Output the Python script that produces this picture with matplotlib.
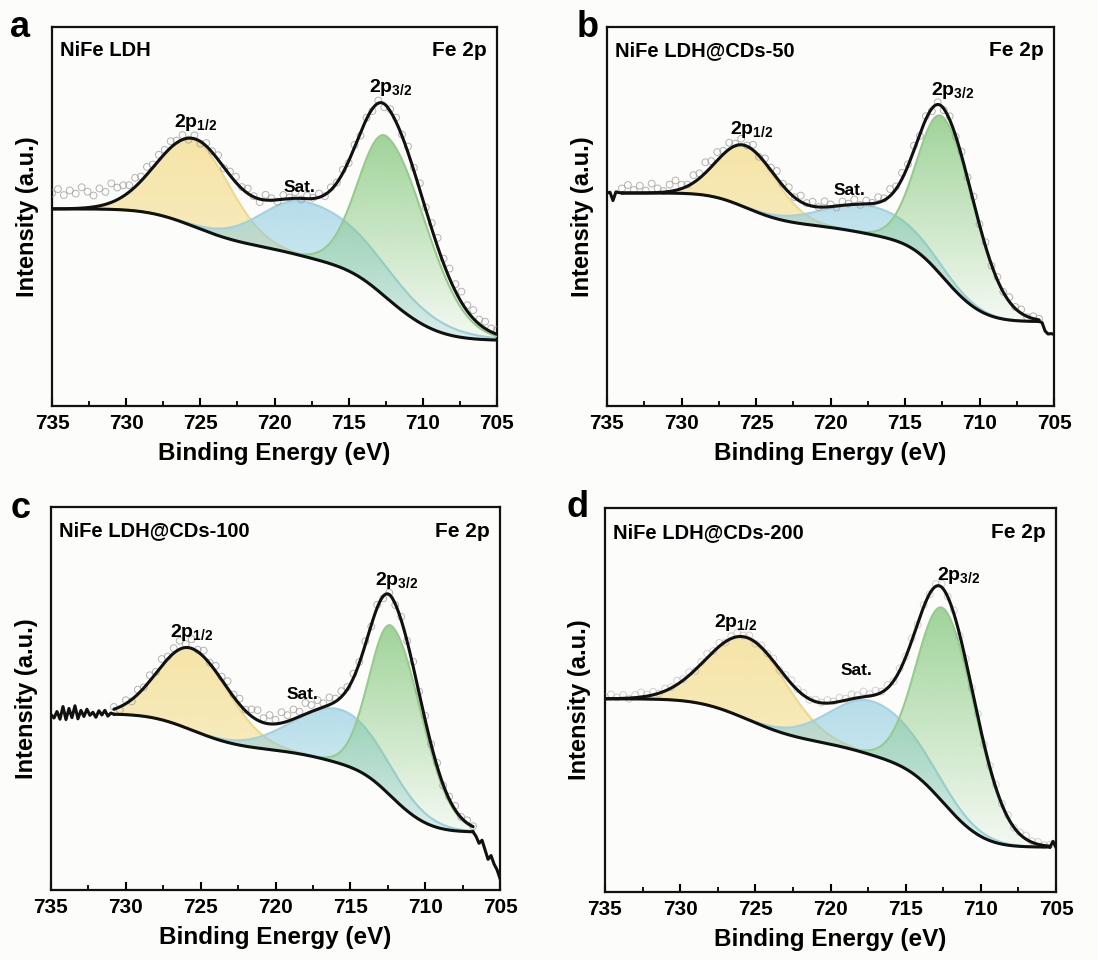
import numpy as np
import matplotlib
matplotlib.use("Agg")
import matplotlib.pyplot as plt
import matplotlib.colors as mcolors
from matplotlib.patches import Polygon
from matplotlib.ticker import MultipleLocator

plt.rcParams["font.family"] = ["Liberation Sans", "DejaVu Sans"]
plt.rcParams["font.weight"] = "bold"
plt.rcParams["mathtext.fontset"] = "custom"
plt.rcParams["mathtext.rm"] = "Liberation Sans:bold"
plt.rcParams["mathtext.bf"] = "Liberation Sans:bold"
plt.rcParams["mathtext.it"] = "Liberation Sans:bold"

# ---------------------------------------------------------------- data
panel_letters = ["a", "b", "c", "d"]
sample_names = ["NiFe LDH", "NiFe LDH@CDs-50", "NiFe LDH@CDs-100", "NiFe LDH@CDs-200"]
region_label = "Fe 2p"
x_ticks = [735, 730, 725, 720, 715, 710, 705]

# fit window (high BE -> low BE) and Shirley background end intensities
fit_hi = [735.0, 734.0, 730.8, 735.0]
fit_lo = [705.0, 706.0, 706.8, 705.4]
bkg_hi = [52.0, 56.2, 45.9, 50.3]
bkg_lo = [17.4, 22.3, 15.2, 11.7]

# fitted components: centre (eV), apex intensity (background + peak),
# sigma on the high-BE side, sigma on the low-BE side
p12_center = [725.4, 725.7, 725.6, 725.5]
p12_apex = [70.0, 68.5, 63.0, 66.0]
p12_sig_hi = [2.5, 1.9, 2.2, 2.6]
p12_sig_lo = [2.4, 2.1, 2.5, 2.6]

sat_center = [717.9, 717.3, 715.6, 717.2]
sat_apex = [53.9, 52.7, 47.0, 49.6]
sat_sig_hi = [2.9, 3.1, 3.1, 2.8]
sat_sig_lo = [5.0, 3.3, 3.0, 3.3]

p32_center = [712.4, 712.4, 712.2, 712.4]
p32_apex = [71.0, 76.0, 68.8, 73.5]
p32_sig_hi = [1.9, 1.7, 1.5, 1.8]
p32_sig_lo = [2.7, 2.1, 2.0, 2.1]

# measured counts relative to the fit envelope, every 0.4 eV from fit_hi downwards
point_step = 0.4
resid_a = [4.1, 5.2, 3.6, 4.8, 3.9, 5.5, 4.2, 3.0, 4.6, 3.3, 5.0, 3.2, 2.9, 1.8, 2.4, 1.2,
           2.0, 0.8, 1.5, 1.0, 1.7, 0.6, 1.2, -0.4, 0.9, -0.6, 0.8, 0.3, 1.2, -0.2, 1.0, 1.5,
           0.4, 1.3, 0.2, -0.8, 1.4, 0.5, -0.5, 1.1, 0.3, 1.6, -0.3, 0.8, 0.2, 1.0, -0.4, 0.7,
           0.1, 0.9, -0.5, 0.6, -0.8, 0.4, -0.6, 0.7, -0.9, 0.5, 1.2, 0.4, 1.6, 0.8, 1.8, 0.6,
           1.5, 2.4, 1.3, 2.6, 1.9, 2.8, 1.6, 2.2, 1.2, 1.8, 0.9, 1.1]
resid_b = [1.2, 2.1, 0.8, 1.9, 0.6, 2.4, 1.1, 0.3, 1.8, 2.6, 1.0, 0.4, 2.0, 1.3, 2.8, 1.5,
           2.2, 0.9, 1.7, 0.6, 1.6, 0.2, 1.4, -0.3, 1.1, 0.7, 1.9, 0.5, 1.3, 0.1, 1.6, 0.4,
           1.2, 0.0, 1.5, 0.6, -0.4, 1.0, 0.3, 1.3, -0.2, 0.9, 0.2, 1.4, 0.5, 1.8, 0.7, 1.6,
           0.4, 1.2, -0.5, 0.8, -0.7, 0.6, -0.4, 0.9, -0.2, 1.1, 0.3, 1.4, 0.2, 1.0, -0.3, 0.8,
           0.1, 1.2, 0.4, 1.0, -0.2, 0.6, 0.3]
resid_c = [0.6, -0.8, 0.9, -0.5, 1.2, 0.2, 1.5, 0.4, 1.8, 0.6, 1.3, 2.2, 0.9, 2.4, 0.5, 1.6,
           0.2, 1.4, 0.8, 1.9, 0.6, 1.5, 0.3, 1.8, 2.6, 1.2, 2.3, 1.1, 2.8, 1.6, 2.5, 1.3,
           2.9, 1.7, 2.4, 1.0, 1.9, 0.8, 1.5, 0.6, 1.2, 0.3, 0.9, -0.4, 0.7, -0.6, 0.5, -0.3,
           0.9, 0.2, 1.3, 0.5, 1.1, 0.1, 0.9, -0.3, 0.6, 1.0, 0.2, 0.7, 0.1]
resid_d = [0.5, 1.1, 0.3, 0.9, -0.2, 0.7, 1.2, 0.4, 0.8, -0.1, 0.6, 0.2, 1.0, 0.3, 0.8, -0.3,
           0.5, 1.1, 0.2, 0.9, -0.2, 0.6, 1.0, 0.3, 0.8, -0.4, 0.5, 0.1, 0.7, -0.3, 0.4, 0.9,
           0.2, 0.6, -0.2, 0.5, 0.1, 0.8, 0.3, 1.0, 0.4, 1.2, 0.6, 1.4, 0.5, 1.1, 0.2, 0.8,
           -0.1, 0.6, 0.2, 0.7, -0.3, 0.5, -0.2, 0.6, 0.9, 0.1, 0.8, -0.2, 0.5, 0.1, 0.7, -0.3,
           0.4, 0.8, 0.2, 0.6, -0.1, 0.5, 0.9, 0.3, 0.6, 0.1, 0.4]
residuals = [resid_a, resid_b, resid_c, resid_d]

# raw spectrum outside the fit window (energy, intensity)
raw_b_left_x = [735.0, 734.8, 734.6, 734.4, 734.2, 734.0]
raw_b_left_y = [56.2, 56.4, 54.2, 56.5, 56.3, 56.2]
raw_b_right_x = [706.0, 705.8, 705.6, 705.4, 705.2, 705.0]
raw_b_right_y = [22.3, 22.0, 19.8, 19.0, 19.1, 18.9]
raw_c_left_x = [735.0, 734.8, 734.6, 734.4, 734.2, 734.0, 733.8, 733.6, 733.4, 733.2, 733.0,
                732.8, 732.6, 732.4, 732.2, 732.0, 731.8, 731.6, 731.4, 731.2, 731.0, 730.8]
raw_c_left_y = [45.8, 44.9, 46.6, 44.6, 47.9, 44.5, 47.4, 45.0, 48.1, 44.7, 46.9,
                45.3, 47.2, 45.6, 46.4, 45.1, 46.8, 45.7, 46.9, 45.4, 46.2, 45.9]
raw_c_right_x = [706.8, 706.6, 706.4, 706.2, 706.0, 705.8, 705.6, 705.4, 705.2, 705.0]
raw_c_right_y = [15.2, 14.0, 12.2, 13.0, 10.5, 8.0, 9.0, 6.8, 5.3, 3.0]
raw_d_right_x = [705.4, 705.2, 705.0]
raw_d_right_y = [11.7, 13.2, 11.6]
raw_segments = [
    [],
    [(raw_b_left_x, raw_b_left_y), (raw_b_right_x, raw_b_right_y)],
    [(raw_c_left_x, raw_c_left_y), (raw_c_right_x, raw_c_right_y)],
    [(raw_d_right_x, raw_d_right_y)],
]

# ---------------------------------------------------------------- layout
BG = "#fcfcfa"
FIG_W, FIG_H = 1098, 960
axes_px = [(52, 27, 497, 406), (607, 27, 1054, 406),
           (51, 507, 500, 890), (605, 508, 1056, 892)]
letter_px = [(10, 37), (577, 37), (11, 518), (566, 517)]
label_p12_pos = [(725.3, 72.0), (725.3, 70.2), (725.6, 64.5), (726.3, 67.4)]
label_p32_pos = [(712.2, 81.3), (711.8, 80.4), (711.9, 78.0), (711.5, 79.6)]
label_sat_pos = [(718.3, 55.7), (718.7, 54.8), (718.2, 49.2), (718.3, 55.7)]
point_alpha = [0.75, 0.75, 0.75, 0.45]

# component colours: (fill base, edge line, alpha top, alpha bottom)
style_p12 = ("#f0cf5a", "#eed98a", 0.52, 0.26)
style_sat = ("#86c9df", "#9fd2e4", 0.60, 0.22)
style_p32 = ("#7cc474", "#95cc8c", 0.72, 0.06)


def split_gauss(x, c, h, s_hi, s_lo):
    s = np.where(x >= c, s_hi, s_lo)
    return h * np.exp(-0.5 * ((x - c) / s) ** 2)


def shirley(x, peak_sum, b_hi, b_lo):
    # x runs from high BE to low BE; area accumulated from the low-BE end
    seg = 0.5 * (peak_sum[1:] + peak_sum[:-1]) * np.abs(np.diff(x))
    cum = np.concatenate([np.cumsum(seg[::-1])[::-1], [0.0]])
    return b_lo + (b_hi - b_lo) * cum / cum[0]


def build_fit(x, centers, apexes, s_hi, s_lo, b_hi, b_lo):
    # peak heights are set so that background + peak reaches the given apex
    heights = [a - b_lo for a in apexes]
    for _ in range(40):
        comps = [split_gauss(x, c, h, sh, sl)
                 for c, h, sh, sl in zip(centers, heights, s_hi, s_lo)]
        bkg = shirley(x, np.sum(comps, axis=0), b_hi, b_lo)
        heights = [a - np.interp(c, x[::-1], bkg[::-1]) for a, c in zip(apexes, centers)]
    comps = [split_gauss(x, c, h, sh, sl)
             for c, h, sh, sl in zip(centers, heights, s_hi, s_lo)]
    bkg = shirley(x, np.sum(comps, axis=0), b_hi, b_lo)
    return comps, bkg


def gradient_fill(ax, x, lo, hi, color, a_top, a_bot, z):
    rgb = mcolors.to_rgb(color)
    n = 256
    grad = np.zeros((n, 1, 4))
    grad[:, 0, :3] = rgb
    grad[:, 0, 3] = np.linspace(a_top, a_bot, n)
    ytop, ybot = hi.max(), lo.min()
    im = ax.imshow(grad, extent=(x.min(), x.max(), ybot, ytop), aspect="auto",
                   origin="upper", interpolation="bilinear", zorder=z)
    verts = np.column_stack([np.r_[x, x[::-1]], np.r_[hi, lo[::-1]]])
    poly = Polygon(verts, closed=True, facecolor="none", edgecolor="none",
                   transform=ax.transData)
    ax.add_patch(poly)
    im.set_clip_path(poly)


fig = plt.figure(figsize=(FIG_W / 100, FIG_H / 100), dpi=100, facecolor=BG)

for i in range(4):
    x0, y0, x1, y1 = axes_px[i]
    ax = fig.add_axes([x0 / FIG_W, 1 - y1 / FIG_H, (x1 - x0) / FIG_W, (y1 - y0) / FIG_H])
    ax.set_facecolor(BG)

    x = np.linspace(fit_hi[i], fit_lo[i], 1201)
    (p12, sat, p32), bkg = build_fit(
        x,
        [p12_center[i], sat_center[i], p32_center[i]],
        [p12_apex[i], sat_apex[i], p32_apex[i]],
        [p12_sig_hi[i], sat_sig_hi[i], p32_sig_hi[i]],
        [p12_sig_lo[i], sat_sig_lo[i], p32_sig_lo[i]],
        bkg_hi[i], bkg_lo[i])
    env = bkg + p12 + sat + p32

    for comp, (fc, ec, at, ab), z in ((p12, style_p12, 1), (sat, style_sat, 2), (p32, style_p32, 3)):
        gradient_fill(ax, x, bkg, bkg + comp, fc, at, ab, z)
        ax.plot(x, bkg + comp, color=ec, lw=1.5, zorder=z + 0.5)

    # measured points
    res = np.asarray(residuals[i])
    xp = fit_hi[i] - point_step * np.arange(len(res))
    yp = np.interp(xp, x[::-1], env[::-1]) + res
    ax.scatter(xp, yp, s=24, facecolors="none", edgecolors="#9a9a9a", linewidths=0.7,
               alpha=point_alpha[i], zorder=5)

    ax.plot(x, bkg, color="#111111", lw=2.2, zorder=6, solid_capstyle="round")
    ax.plot(x, env, color="#111111", lw=2.2, zorder=6, solid_capstyle="round")
    for sx, sy in raw_segments[i]:
        ax.plot(sx, sy, color="#111111", lw=2.2, zorder=6, solid_joinstyle="round")

    # peak labels
    ax.text(*label_p12_pos[i], r"2p$_{\mathbf{1/2}}$", ha="center", va="bottom",
            fontsize=14, fontweight="bold", zorder=7)
    ax.text(*label_p32_pos[i], r"2p$_{\mathbf{3/2}}$", ha="center", va="bottom",
            fontsize=14, fontweight="bold", zorder=7)
    ax.text(*label_sat_pos[i], "Sat.", ha="center", va="bottom",
            fontsize=12.5, fontweight="bold", zorder=7)

    ax.text(0.018, 0.962, sample_names[i], transform=ax.transAxes, ha="left", va="top",
            fontsize=14.5, fontweight="bold")
    ax.text(0.978, 0.962, region_label, transform=ax.transAxes, ha="right", va="top",
            fontsize=15, fontweight="bold")

    ax.set_xlim(735, 705)
    ax.set_ylim(0, 100)
    ax.set_xticks(x_ticks)
    ax.xaxis.set_minor_locator(MultipleLocator(2.5))
    ax.set_yticks([])
    ax.tick_params(axis="x", which="major", direction="in", length=6, width=1.5,
                   labelsize=15, pad=6, top=False)
    ax.tick_params(axis="x", which="minor", direction="in", length=3.5, width=1.3, top=False)
    for lab in ax.get_xticklabels():
        lab.set_fontweight("bold")
    for sp in ax.spines.values():
        sp.set_linewidth(1.6)
        sp.set_color("#111111")

    ax.set_xlabel("Binding Energy (eV)", fontsize=17.5, fontweight="bold", labelpad=6)
    ax.set_ylabel("Intensity (a.u.)", fontsize=17, fontweight="bold")
    ax.yaxis.set_label_coords(-0.03, 0.5)

    lx, ly = letter_px[i]
    fig.text(lx / FIG_W, 1 - ly / FIG_H, panel_letters[i], fontsize=26,
             fontweight="bold", ha="left", va="baseline")

fig.savefig("out.png", dpi=100, facecolor=BG)
